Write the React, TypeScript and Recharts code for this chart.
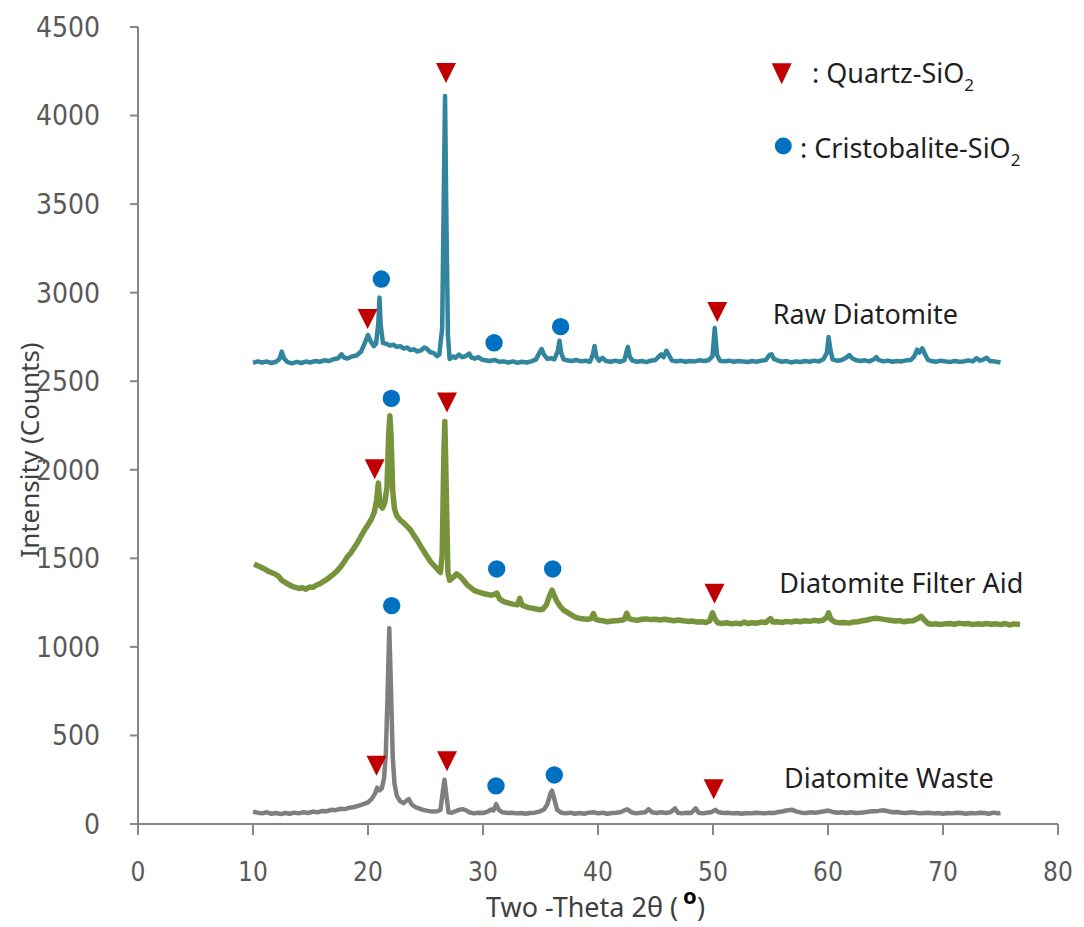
import React from "react";
import {
  ComposedChart,
  Line,
  Scatter,
  XAxis,
  YAxis,
  Customized,
} from "recharts";

// [2θ, counts] readings for each XRD pattern
const rawDiatomite: number[][] = [
  [10.0, 2604], [10.4, 2612], [10.8, 2606], [11.2, 2611], [11.6, 2603], [12.0, 2610],
  [12.3, 2625], [12.5, 2667], [12.7, 2628], [13.0, 2608], [13.4, 2601], [13.8, 2609],
  [14.2, 2603], [14.6, 2611], [15.0, 2606], [15.4, 2614], [15.8, 2610], [16.2, 2618],
  [16.6, 2614], [17.0, 2624], [17.4, 2630], [17.7, 2652], [17.9, 2635], [18.2, 2628],
  [18.6, 2640], [19.0, 2645], [19.4, 2668], [19.7, 2712], [20.0, 2760], [20.2, 2730],
  [20.5, 2698], [20.7, 2712], [20.9, 2830], [21.0, 2972], [21.1, 2820], [21.3, 2716],
  [21.6, 2712], [21.9, 2702], [22.2, 2706], [22.5, 2694], [22.8, 2698], [23.1, 2685],
  [23.4, 2690], [23.7, 2676], [24.0, 2680], [24.3, 2668], [24.6, 2674], [24.9, 2690],
  [25.1, 2684], [25.4, 2664], [25.7, 2660], [26.0, 2642], [26.2, 2650], [26.45, 2800],
  [26.6, 3600], [26.7, 4110], [26.8, 3500], [26.95, 2760], [27.1, 2625], [27.4, 2640],
  [27.6, 2632], [27.9, 2650], [28.2, 2636], [28.5, 2642], [28.8, 2656], [29.0, 2634],
  [29.3, 2628], [29.6, 2636], [29.9, 2622], [30.2, 2618], [30.6, 2614], [31.0, 2620],
  [31.4, 2610], [31.8, 2612], [32.2, 2606], [32.6, 2612], [33.0, 2604], [33.4, 2610],
  [33.8, 2606], [34.2, 2612], [34.6, 2622], [34.9, 2660], [35.1, 2682], [35.3, 2650],
  [35.6, 2626], [35.9, 2630], [36.2, 2624], [36.5, 2670], [36.65, 2728], [36.8, 2660],
  [37.0, 2624], [37.3, 2618], [37.7, 2614], [38.1, 2620], [38.5, 2612], [38.9, 2616],
  [39.3, 2610], [39.55, 2650], [39.7, 2699], [39.85, 2640], [40.1, 2616], [40.4, 2632],
  [40.7, 2614], [41.1, 2610], [41.5, 2616], [41.9, 2610], [42.3, 2618], [42.45, 2660],
  [42.6, 2694], [42.75, 2640], [43.0, 2616], [43.4, 2610], [43.8, 2614], [44.2, 2608],
  [44.6, 2616], [45.0, 2620], [45.3, 2640], [45.5, 2652], [45.7, 2636], [45.95, 2672],
  [46.15, 2650], [46.4, 2618], [46.8, 2612], [47.2, 2616], [47.6, 2610], [48.0, 2614],
  [48.4, 2612], [48.8, 2618], [49.2, 2614], [49.6, 2618], [49.95, 2640], [50.15, 2800],
  [50.35, 2650], [50.6, 2616], [51.0, 2612], [51.4, 2616], [51.8, 2610], [52.2, 2614],
  [52.6, 2612], [53.0, 2608], [53.4, 2614], [53.8, 2610], [54.2, 2616], [54.6, 2620],
  [54.9, 2648], [55.1, 2652], [55.3, 2626], [55.6, 2618], [56.0, 2610], [56.4, 2614],
  [56.8, 2606], [57.2, 2612], [57.6, 2608], [58.0, 2614], [58.4, 2610], [58.8, 2616],
  [59.2, 2612], [59.6, 2624], [59.9, 2660], [60.05, 2750], [60.2, 2680], [60.4, 2622],
  [60.8, 2616], [61.2, 2620], [61.6, 2634], [61.85, 2648], [62.1, 2630], [62.4, 2620],
  [62.8, 2614], [63.2, 2618], [63.6, 2612], [64.0, 2624], [64.2, 2636], [64.4, 2620],
  [64.8, 2612], [65.2, 2616], [65.6, 2610], [66.0, 2614], [66.4, 2612], [66.8, 2618],
  [67.2, 2620], [67.5, 2640], [67.75, 2678], [67.95, 2662], [68.2, 2686], [68.45, 2650],
  [68.7, 2620], [69.0, 2614], [69.4, 2610], [69.8, 2616], [70.2, 2612], [70.6, 2608],
  [71.0, 2614], [71.4, 2610], [71.8, 2612], [72.2, 2618], [72.6, 2612], [72.9, 2630],
  [73.2, 2616], [73.5, 2622], [73.8, 2632], [74.1, 2614], [74.5, 2612], [75.0, 2606],
];

const filterAid: number[][] = [
  [10.1, 1468], [10.4, 1458], [10.7, 1450], [11.0, 1440], [11.3, 1428], [11.6, 1420],
  [11.9, 1412], [12.2, 1400], [12.5, 1376], [12.8, 1364], [13.1, 1352], [13.4, 1342],
  [13.7, 1336], [14.0, 1330], [14.3, 1334], [14.6, 1326], [14.9, 1338], [15.2, 1336],
  [15.5, 1348], [15.8, 1356], [16.1, 1368], [16.4, 1380], [16.7, 1396], [17.0, 1410],
  [17.3, 1428], [17.6, 1450], [17.9, 1478], [18.2, 1508], [18.5, 1530], [18.8, 1560],
  [19.1, 1590], [19.4, 1626], [19.7, 1660], [20.0, 1690], [20.3, 1722], [20.55, 1760],
  [20.75, 1830], [20.9, 1925], [21.05, 1800], [21.25, 1784], [21.45, 1812], [21.65, 1900],
  [21.8, 2200], [21.9, 2305], [22.0, 2200], [22.15, 1880], [22.3, 1780], [22.5, 1740],
  [22.8, 1716], [23.1, 1700], [23.4, 1680], [23.7, 1660], [24.0, 1628], [24.3, 1600],
  [24.6, 1566], [24.9, 1536], [25.2, 1504], [25.5, 1476], [25.8, 1456], [26.1, 1434],
  [26.3, 1420], [26.45, 1520], [26.6, 2100], [26.68, 2272], [26.8, 1900], [26.95, 1420],
  [27.1, 1376], [27.4, 1392], [27.7, 1412], [28.0, 1398], [28.3, 1376], [28.6, 1352],
  [28.9, 1336], [29.2, 1320], [29.5, 1312], [29.8, 1306], [30.1, 1300], [30.4, 1296],
  [30.7, 1292], [31.0, 1296], [31.2, 1304], [31.45, 1270], [31.8, 1256], [32.1, 1250],
  [32.4, 1244], [32.7, 1240], [33.0, 1238], [33.2, 1274], [33.4, 1236], [33.7, 1228],
  [34.0, 1222], [34.3, 1218], [34.6, 1214], [34.9, 1210], [35.2, 1212], [35.5, 1236],
  [35.8, 1290], [36.0, 1320], [36.2, 1290], [36.4, 1260], [36.7, 1230], [37.0, 1208],
  [37.3, 1196], [37.6, 1184], [37.9, 1172], [38.2, 1164], [38.5, 1160], [38.8, 1158],
  [39.1, 1156], [39.4, 1160], [39.6, 1188], [39.8, 1156], [40.1, 1150], [40.4, 1148],
  [40.8, 1142], [41.2, 1146], [41.6, 1148], [42.0, 1150], [42.3, 1156], [42.5, 1190],
  [42.7, 1160], [43.0, 1154], [43.4, 1150], [43.8, 1156], [44.2, 1158], [44.6, 1154],
  [45.0, 1156], [45.4, 1152], [45.8, 1156], [46.2, 1152], [46.6, 1148], [47.0, 1152],
  [47.4, 1148], [47.8, 1144], [48.2, 1146], [48.6, 1140], [49.0, 1142], [49.4, 1138],
  [49.7, 1146], [49.95, 1192], [50.15, 1160], [50.4, 1136], [50.8, 1132], [51.2, 1136],
  [51.6, 1130], [52.0, 1134], [52.4, 1130], [52.7, 1140], [53.0, 1132], [53.4, 1136],
  [53.8, 1134], [54.2, 1140], [54.6, 1138], [55.0, 1160], [55.2, 1140], [55.6, 1142],
  [56.0, 1138], [56.4, 1144], [56.8, 1140], [57.2, 1146], [57.6, 1142], [58.0, 1148],
  [58.4, 1144], [58.8, 1150], [59.2, 1146], [59.6, 1152], [59.9, 1168], [60.05, 1192],
  [60.25, 1156], [60.6, 1140], [61.0, 1136], [61.4, 1138], [61.8, 1134], [62.2, 1140],
  [62.6, 1142], [63.0, 1148], [63.4, 1152], [63.8, 1158], [64.2, 1162], [64.6, 1158],
  [65.0, 1154], [65.4, 1150], [65.8, 1146], [66.2, 1148], [66.6, 1142], [67.0, 1146],
  [67.4, 1148], [67.8, 1160], [68.1, 1172], [68.4, 1150], [68.7, 1132], [69.0, 1128],
  [69.4, 1130], [69.8, 1126], [70.2, 1130], [70.6, 1132], [71.0, 1128], [71.4, 1134],
  [71.8, 1130], [72.2, 1132], [72.6, 1126], [73.0, 1130], [73.4, 1128], [73.8, 1132],
  [74.2, 1128], [74.6, 1130], [75.0, 1126], [75.4, 1132], [75.8, 1124], [76.2, 1130],
  [76.7, 1126],
];

const waste: number[][] = [
  [10.0, 70], [10.4, 64], [10.8, 60], [11.2, 66], [11.6, 58], [12.0, 62], [12.4, 56],
  [12.8, 62], [13.2, 58], [13.6, 64], [14.0, 60], [14.4, 66], [14.8, 62], [15.2, 70],
  [15.6, 66], [16.0, 74], [16.4, 72], [16.8, 80], [17.2, 78], [17.6, 86], [18.0, 84],
  [18.4, 92], [18.8, 96], [19.2, 104], [19.6, 112], [20.0, 122], [20.3, 140], [20.6, 170],
  [20.8, 205], [21.0, 190], [21.2, 200], [21.4, 260], [21.55, 400], [21.7, 720],
  [21.85, 1105], [22.0, 760], [22.15, 380], [22.3, 230], [22.5, 160], [22.8, 128],
  [23.1, 118], [23.35, 132], [23.55, 140], [23.8, 110], [24.1, 96], [24.4, 88], [24.8, 80],
  [25.2, 74], [25.6, 70], [26.0, 72], [26.3, 80], [26.5, 180], [26.65, 250], [26.8, 170],
  [27.0, 66], [27.3, 64], [27.6, 72], [27.9, 80], [28.2, 84], [28.5, 78], [28.8, 66],
  [29.2, 60], [29.6, 64], [30.0, 62], [30.4, 70], [30.7, 82], [30.9, 76], [31.15, 112],
  [31.4, 78], [31.7, 66], [32.1, 62], [32.5, 64], [32.9, 60], [33.3, 62], [33.7, 58],
  [34.1, 62], [34.5, 64], [34.9, 70], [35.3, 82], [35.6, 112], [35.85, 170], [36.0, 188],
  [36.2, 140], [36.45, 80], [36.8, 64], [37.2, 60], [37.6, 64], [38.0, 58], [38.4, 62],
  [38.8, 58], [39.2, 64], [39.6, 66], [40.0, 60], [40.4, 64], [40.8, 58], [41.2, 62],
  [41.6, 64], [42.0, 68], [42.4, 80], [42.6, 82], [42.9, 66], [43.3, 60], [43.7, 64],
  [44.1, 66], [44.4, 84], [44.7, 66], [45.1, 62], [45.5, 66], [45.9, 62], [46.3, 66],
  [46.7, 88], [46.95, 64], [47.3, 60], [47.7, 64], [48.1, 62], [48.5, 88], [48.75, 64],
  [49.1, 60], [49.5, 64], [49.9, 68], [50.2, 80], [50.5, 66], [50.9, 62], [51.3, 64],
  [51.7, 60], [52.1, 62], [52.5, 58], [52.9, 62], [53.3, 60], [53.7, 64], [54.1, 62],
  [54.5, 60], [54.9, 64], [55.3, 62], [55.7, 68], [56.1, 72], [56.5, 78], [56.9, 80],
  [57.3, 70], [57.7, 64], [58.1, 62], [58.5, 66], [58.9, 64], [59.3, 68], [59.7, 72],
  [60.0, 76], [60.4, 68], [60.8, 64], [61.2, 66], [61.6, 62], [62.0, 66], [62.4, 62],
  [62.8, 64], [63.2, 66], [63.6, 70], [64.0, 72], [64.4, 74], [64.8, 78], [65.2, 72],
  [65.6, 66], [66.0, 68], [66.4, 64], [66.8, 62], [67.2, 66], [67.6, 64], [68.0, 60],
  [68.4, 62], [68.8, 64], [69.2, 60], [69.6, 62], [70.0, 58], [70.4, 62], [70.8, 60],
  [71.2, 64], [71.6, 62], [72.0, 58], [72.4, 62], [72.8, 60], [73.2, 64], [73.6, 62],
  [74.0, 58], [74.4, 64], [74.8, 60], [75.0, 62],
];

// phase markers placed above the identified peaks
const quartzPeaks: number[][] = [
  [26.78, 4240], [19.97, 2851], [50.37, 2891],
  [20.58, 2003], [26.87, 2380], [50.13, 1300],
  [20.74, 329], [26.87, 354], [50.06, 196],
];
const cristobalitePeaks: number[][] = [
  [21.16, 3077], [30.96, 2717], [36.75, 2808],
  [22.03, 2403], [31.19, 1440], [36.06, 1440],
  [22.06, 1233], [31.13, 215], [36.2, 277],
];

const xTicks = [0, 10, 20, 30, 40, 50, 60, 70, 80];
const yTicks = [0, 500, 1000, 1500, 2000, 2500, 3000, 3500, 4000, 4500];

const toPts = (rows: number[][]) => rows.map(([x, y]) => ({ x, y }));

const TEXT_FONT = '"Noto Sans", "Open Sans", sans-serif';
const TICK_FONT = '"Liberation Sans Narrow", "DejaVu Sans Condensed", "Liberation Sans", sans-serif';
const RED = "#C00000";
const BLUE = "#0070C0";

const Triangle = (props: any) => {
  const { cx, cy } = props;
  if (cx == null || cy == null) return null;
  return (
    <polygon
      points={`${cx - 10},${cy - 10} ${cx + 10},${cy - 10} ${cx},${cy + 10}`}
      fill={RED}
    />
  );
};

const Dot = (props: any) => {
  const { cx, cy } = props;
  if (cx == null || cy == null) return null;
  return <circle cx={cx} cy={cy} r={8.7} fill={BLUE} />;
};

const Annotations = () => (
  <g fontFamily={TEXT_FONT} fill="#1f1f1f">
    <polygon points="771.7,63.3 791.7,63.3 781.7,84.3" fill={RED} />
    <text x={812} y={83.3} fontSize={27}>
      : Quartz-SiO<tspan fontSize={17} dy={8}>2</tspan>
    </text>
    <circle cx={783.3} cy={146} r={8.5} fill={BLUE} />
    <text x={800} y={158.3} fontSize={27}>
      : Cristobalite-SiO<tspan fontSize={17} dy={8}>2</tspan>
    </text>
    <text x={772.7} y={324.3} fontSize={27}>Raw Diatomite</text>
    <text x={779.3} y={592.7} fontSize={27}>Diatomite Filter Aid</text>
    <text x={784} y={788.3} fontSize={27}>Diatomite Waste</text>
    <text
      transform="translate(29, 450) rotate(-90)"
      textAnchor="middle"
      dominantBaseline="central"
      fontSize={26}
      fill="#404040"
    >
      Intensity (Counts)
    </text>
    <text x={486} y={917} fontSize={27} fill="#404040">Two -Theta 2θ (</text>
    <text x={683} y={904} fontSize={22} fontWeight="bold" fill="#000">o</text>
    <text x={697} y={917} fontSize={27} fill="#404040">)</text>
  </g>
);

export default function App() {
  return (
    <div style={{ position: "absolute", left: 0, top: 0, background: "#fff" }}>
      <ComposedChart
        width={1084}
        height={927}
        margin={{ top: 27, right: 26, bottom: 0, left: 0 }}
      >
        <XAxis
          dataKey="x"
          type="number"
          domain={[0, 80]}
          ticks={xTicks}
          height={103}
          tickSize={11}
          tickMargin={28}
          axisLine={{ stroke: "#868686", strokeWidth: 2 }}
          tickLine={{ stroke: "#868686", strokeWidth: 2 }}
          tick={{ fontSize: 26, fill: "#595959", fontFamily: TICK_FONT }}
        />
        <XAxis
          xAxisId="top"
          orientation="top"
          type="number"
          domain={[0, 80]}
          height={0}
          tick={false}
          tickLine={false}
          axisLine={{ stroke: "#333", strokeWidth: 2 }}
        />
        <YAxis
          type="number"
          domain={[0, 4500]}
          ticks={yTicks}
          width={138}
          tickSize={8}
          tickMargin={30}
          axisLine={{ stroke: "#868686", strokeWidth: 2 }}
          tickLine={{ stroke: "#868686", strokeWidth: 2 }}
          tick={{ fontSize: 28, fill: "#595959", fontFamily: TICK_FONT }}
        />
        <YAxis
          yAxisId="right"
          orientation="right"
          type="number"
          domain={[0, 4500]}
          width={0}
          tick={false}
          tickLine={false}
          axisLine={{ stroke: "#333", strokeWidth: 2 }}
        />
        <Line
          data={toPts(rawDiatomite)}
          dataKey="y"
          type="linear"
          stroke="#31859C"
          strokeWidth={4.5}
          strokeLinejoin="round"
          dot={false}
          isAnimationActive={false}
        />
        <Line
          data={toPts(filterAid)}
          dataKey="y"
          type="linear"
          stroke="#77933C"
          strokeWidth={5.5}
          strokeLinejoin="round"
          dot={false}
          isAnimationActive={false}
        />
        <Line
          data={toPts(waste)}
          dataKey="y"
          type="linear"
          stroke="#7F7F7F"
          strokeWidth={4.5}
          strokeLinejoin="round"
          dot={false}
          isAnimationActive={false}
        />
        <Scatter
          data={toPts(quartzPeaks)}
          dataKey="y"
          shape={<Triangle />}
          isAnimationActive={false}
        />
        <Scatter
          data={toPts(cristobalitePeaks)}
          dataKey="y"
          shape={<Dot />}
          isAnimationActive={false}
        />
        <Customized component={Annotations} />
      </ComposedChart>
    </div>
  );
}
